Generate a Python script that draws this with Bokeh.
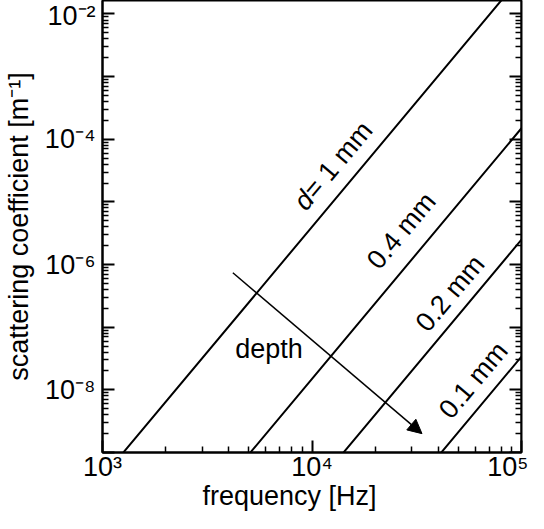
from bokeh.plotting import figure
from bokeh.models import (LogAxis, FixedTicker, CustomJSTickFormatter, Arrow,
                          NormalHead, Range1d)
from bokeh.core.properties import value
from bokeh.embed import file_html
from bokeh.resources import INLINE

# ---- data (log-log straight lines) ----
frequency_hz = [1e3, 1e4, 1e5]
alpha_d_1mm = [4.0e-10, 4.0e-6, 4.0e-2]
alpha_d_04mm = [1.5e-12, 1.5e-8, 1.5e-4]
alpha_d_02mm = [2.5e-14, 2.5e-10, 2.5e-6]
alpha_d_01mm = [3.4e-16, 3.4e-12, 3.4e-8]

line_labels = ["0.4 mm", "0.2 mm", "0.1 mm"]
label_freq = [26700, 45600, 58900]
label_alpha = [3.46e-6, 3.47e-7, 1.42e-8]

x_major_ticks = [1e3, 1e4, 1e5]
x_minor_ticks = [k * 10.0 ** n for n in (3, 4) for k in range(2, 10)]
y_major_ticks = [10.0 ** n for n in range(-9, -1)]
y_minor_ticks = [k * 10.0 ** n for n in range(-9, -2) for k in range(2, 10)]

FONT = "Liberation Sans"
FS = "27px"

sup_code = """
const sup = {"-":"\u207b","0":"\u2070","1":"\u00b9","2":"\u00b2","3":"\u00b3",
             "4":"\u2074","5":"\u2075","6":"\u2076","7":"\u2077","8":"\u2078","9":"\u2079"};
const e = Math.round(Math.log10(tick));
if (e % step != 0) return "";
return "10" + String(e).split("").map(c => sup[c]).join("");
"""

p = figure(width=528, height=513, x_axis_type="log", y_axis_type="log",
           x_range=Range1d(1e3, 1e5), y_range=Range1d(1e-9, 1.64e-2),
           output_backend="svg", toolbar_location=None,
           min_border_left=96, min_border_right=7, min_border_top=0,
           min_border_bottom=0)
p.grid.visible = False
p.outline_line_color = "black"
p.outline_line_width = 2
p.background_fill_color = "white"
p.border_fill_color = "white"

p.xaxis[0].ticker = FixedTicker(ticks=x_major_ticks, minor_ticks=x_minor_ticks)
p.xaxis[0].formatter = CustomJSTickFormatter(args=dict(step=1), code=sup_code)
p.yaxis[0].ticker = FixedTicker(ticks=y_major_ticks, minor_ticks=y_minor_ticks)
p.yaxis[0].formatter = CustomJSTickFormatter(args=dict(step=2), code=sup_code)

right_axis = LogAxis(ticker=FixedTicker(ticks=y_major_ticks, minor_ticks=y_minor_ticks),
                     formatter=CustomJSTickFormatter(code="return '';"),
                     fixed_location=1e5,
                     major_label_standoff=0, axis_label_standoff=0)
p.add_layout(right_axis, "right")

for ax in [p.xaxis[0], p.yaxis[0], right_axis]:
    ax.major_tick_in = 12
    ax.major_tick_out = 0
    ax.minor_tick_in = 6
    ax.minor_tick_out = 0
    ax.major_tick_line_width = 2
    ax.minor_tick_line_width = 1.5
    ax.axis_line_width = 2
    ax.axis_line_color = "black"
    ax.major_tick_line_color = "black"
    ax.minor_tick_line_color = "black"

for ax in [p.xaxis[0], p.yaxis[0]]:
    ax.major_label_text_font = FONT
    ax.major_label_text_font_size = FS
    ax.major_label_text_color = "black"
    ax.axis_label_text_font = FONT
    ax.axis_label_text_font_size = FS
    ax.axis_label_text_font_style = "normal"
    ax.axis_label_text_color = "black"

p.xaxis[0].major_label_standoff = -1
p.xaxis[0].axis_label = "frequency [Hz]" + "\u00a0" * 6   # shifts it left, as in the reference
p.xaxis[0].axis_label_standoff = -4
p.yaxis[0].major_label_standoff = 7
p.yaxis[0].axis_label = "scattering coefficient [m\u207b\u00b9]"
p.yaxis[0].axis_label_standoff = 8

for ys in [alpha_d_1mm, alpha_d_04mm, alpha_d_02mm, alpha_d_01mm]:
    p.line(frequency_hz, ys, line_width=2, line_color="black")

common = dict(angle=50, angle_units="deg", text_font=value(FONT),
              text_font_size=FS, text_baseline="middle", text_color="black")
p.text(x=[9650], y=[1.3e-5], text=["d"], text_align="right",
       text_font_style="italic", **common)
p.text(x=[9650], y=[1.3e-5], text=["= 1 mm"], text_align="left", **common)
p.text(x=label_freq, y=label_alpha, text=line_labels, text_align="center", **common)

p.text(x=[6240], y=[4.47e-8], text=["depth"], text_align="center",
       text_baseline="middle", text_font=value(FONT), text_font_size=FS,
       text_color="black")

p.add_layout(Arrow(end=NormalHead(size=14, fill_color="black", line_color="black"),
                   x_start=4190, y_start=7.4e-7, x_end=33500, y_end=2.0e-9,
                   line_width=1.5, line_color="black"))

open("out.html", "w").write(file_html(p, INLINE))
